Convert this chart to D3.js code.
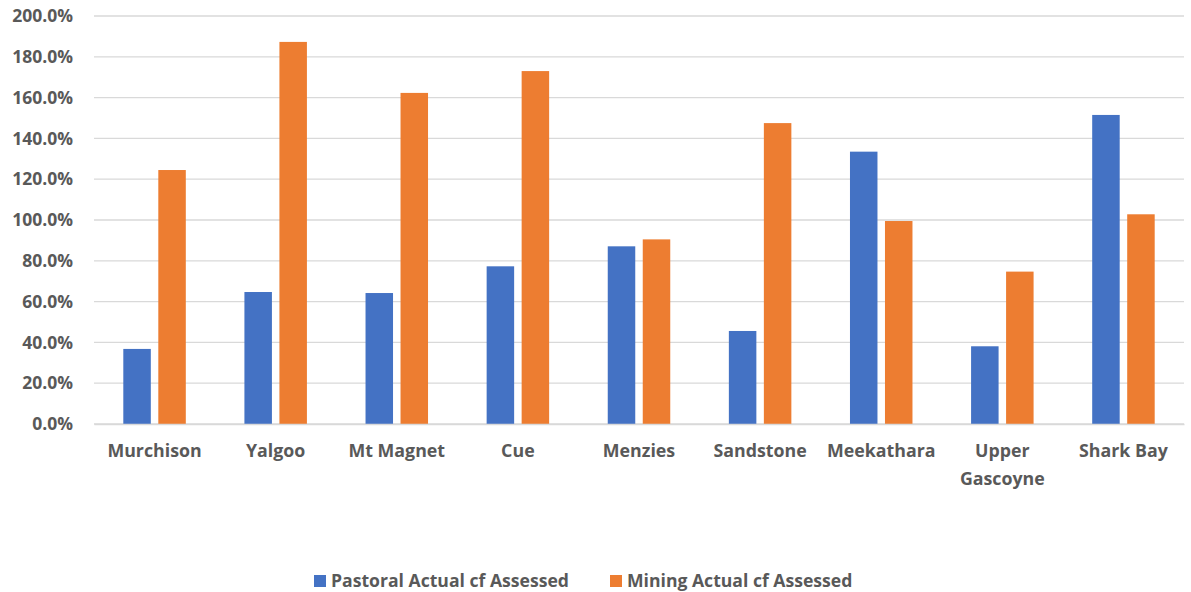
<!DOCTYPE html>
<html><head><meta charset="utf-8">
<script src="https://cdn.jsdelivr.net/npm/d3@7"></script>
<style>body{margin:0;background:#fff}svg{display:block}text{font-family:"Open Sans",sans-serif;font-weight:700;fill:#595959}</style>
</head><body><svg id="c" width="1191" height="592"></svg>
<script>
const categories = ["Murchison","Yalgoo","Mt Magnet","Cue","Menzies","Sandstone","Meekathara","Upper Gascoyne","Shark Bay"];
const seriesNames = ["Pastoral Actual cf Assessed","Mining Actual cf Assessed"];
const pastoral = [36.8,64.7,64.2,77.3,87.1,45.6,133.5,38.1,151.5];
const mining = [124.5,187.3,162.3,173.0,90.5,147.5,99.5,74.7,102.8];
const yTicks = [0,20,40,60,80,100,120,140,160,180,200];
const colors = ["#4472c4","#ed7d31"];

const svg = d3.select("#c");
const L=94, R=1184, T=16, B=424;
const x = d3.scaleBand().domain(categories).range([L,R]);
const y = d3.scaleLinear().domain([0,200]).range([B,T]);
const bw = 27.5, gap = 7.5;

svg.append("g").selectAll("line").data(yTicks).enter().append("line")
 .attr("x1",L).attr("x2",R).attr("y1",d=>y(d)).attr("y2",d=>y(d))
 .attr("stroke","#d9d9d9").attr("stroke-width",1.3);

const yAxis = svg.append("g").attr("transform",`translate(${L},0)`)
 .call(d3.axisLeft(y).tickValues(yTicks).tickSize(0).tickPadding(21).tickFormat(d=>d.toFixed(1)+"%"));
yAxis.select(".domain").remove();
yAxis.selectAll("text").style("font-size","17.5px").attr("fill","#595959").style("font-family","'Open Sans',sans-serif").style("font-weight","700");

[pastoral, mining].forEach((vals,si)=>{
  svg.append("g").selectAll("rect").data(vals).enter().append("rect")
   .attr("x",(d,i)=>x(categories[i]) + x.bandwidth()/2 - bw - gap/2 + si*(bw+gap))
   .attr("y",d=>y(d)).attr("width",bw).attr("height",d=>B-y(d))
   .attr("fill",colors[si]);
});

const xAxis = svg.append("g").attr("transform",`translate(0,${B})`)
 .call(d3.axisBottom(x).tickSize(0).tickPadding(20));
xAxis.select(".domain").attr("stroke","#d9d9d9").attr("stroke-width",1.3);
xAxis.selectAll("text").style("font-size","17.8px").attr("fill","#595959").style("font-family","'Open Sans',sans-serif").style("font-weight","700")
 .each(function(d){
   const t=d3.select(this);
   if(d==="Upper Gascoyne"){
     t.text(null);
     t.append("tspan").attr("x",0).attr("dy","0.71em").text("Upper");
     t.append("tspan").attr("x",0).attr("dy","1.6em").text("Gascoyne");
   }
 });

const leg = svg.append("g");
const legX = [314, 610];
seriesNames.forEach((n,i)=>{
  leg.append("rect").attr("x",legX[i]).attr("y",575).attr("width",12).attr("height",12).attr("fill",colors[i]);
  leg.append("text").attr("x",legX[i]+17).attr("y",587).style("font-size","17.6px").text(n);
});
</script></body></html>
